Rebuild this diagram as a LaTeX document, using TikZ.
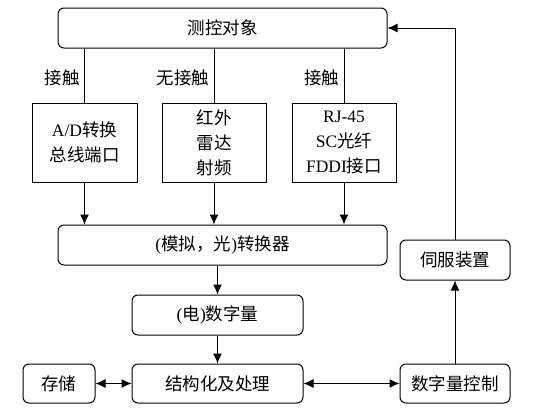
\documentclass[tikz,border=0pt]{standalone}
\usepackage{fontspec}
\setmainfont{Liberation Serif}
\newfontfamily\cjk{Noto Sans CJK SC}
\usetikzlibrary{arrows.meta}
\begin{document}
\begin{tikzpicture}[x=1pt,y=-1pt,
  rbox/.style={draw,rounded corners=6pt,line width=1pt,inner sep=0pt},
  sbox/.style={draw,line width=1pt,inner sep=0pt},
  lbl/.style={font=\fontsize{17.5}{25}\selectfont,align=center},
  conn/.style={line width=1pt,-{Latex[length=10pt,width=9pt]}},
  dconn/.style={line width=1pt,{Latex[length=10pt,width=9pt]}-{Latex[length=10pt,width=9pt]}}]
\useasboundingbox (0,0) rectangle (549,415);
% top
\node[rbox,minimum width=329pt,minimum height=40pt] (top) at (222.5,28) {};
\node[lbl] at (top) {\cjk 测控对象};
% three boxes
\node[sbox,minimum width=105pt,minimum height=79pt] (b1) at (84.5,142.5) {};
\node[lbl] at (b1) {A/D\cjk 转换\\\cjk 总线端口};
\node[sbox,minimum width=104pt,minimum height=79pt] (b2) at (214,142.5) {};
\node[lbl] at (b2) {\cjk 红外\\\cjk 雷达\\\cjk 射频};
\node[sbox,minimum width=104pt,minimum height=79pt] (b3) at (344,142.5) {};
\node[lbl] at (b3) {RJ-45\\SC\cjk 光纤\\FDDI\cjk 接口};
% converter
\node[rbox,minimum width=329pt,minimum height=40pt] (conv) at (222.5,245) {};
\node[lbl] at (conv) {(\cjk 模拟，光\rmfamily)\cjk 转换器};
% servo
\node[rbox,minimum width=110pt,minimum height=40pt] (servo) at (455,260) {};
\node[lbl] at (servo) {\cjk 伺服装置};
% digital
\node[rbox,minimum width=171pt,minimum height=40pt] (dig) at (217.5,315) {};
\node[lbl] at (dig) {(\cjk 电\rmfamily)\cjk 数字量};
% bottom row
\node[rbox,minimum width=72pt,minimum height=39pt] (store) at (59,383.5) {};
\node[lbl] at (store) {\cjk 存储};
\node[rbox,minimum width=171pt,minimum height=39pt] (proc) at (217.5,383.5) {};
\node[lbl] at (proc) {\cjk 结构化及处理};
\node[rbox,minimum width=110pt,minimum height=39pt] (ctrl) at (455,383.5) {};
\node[lbl] at (ctrl) {\cjk 数字量控制};
% connectors top -> boxes
\draw[line width=1pt] (top.south -| b1) -- node[lbl,left=1pt,pos=0.55]{\cjk 接触} (b1.north);
\draw[line width=1pt] (top.south -| b2) -- node[lbl,left=1pt,pos=0.55]{\cjk 无接触} (b2.north);
\draw[line width=1pt] (top.south -| b3) -- node[lbl,left=1pt,pos=0.55]{\cjk 接触} (b3.north);
% boxes -> converter
\draw[conn] (b1.south) -- (b1.south |- conv.north);
\draw[conn] (b2.south) -- (b2.south |- conv.north);
\draw[conn] (b3.south) -- (b3.south |- conv.north);
% converter -> digital -> proc
\draw[conn] (conv.south -| dig) -- (dig.north);
\draw[conn] (dig.south) -- (proc.north);
% double arrows
\draw[dconn] (store.east) -- (proc.west);
\draw[dconn] (proc.east) -- (ctrl.west);
% ctrl -> servo -> top
\draw[conn] (ctrl.north) -- (servo.south);
\coordinate (corner) at (servo.north |- top.east);
\draw[conn] (servo.north) -- (corner) -- (top.east);
\end{tikzpicture}
\end{document}
